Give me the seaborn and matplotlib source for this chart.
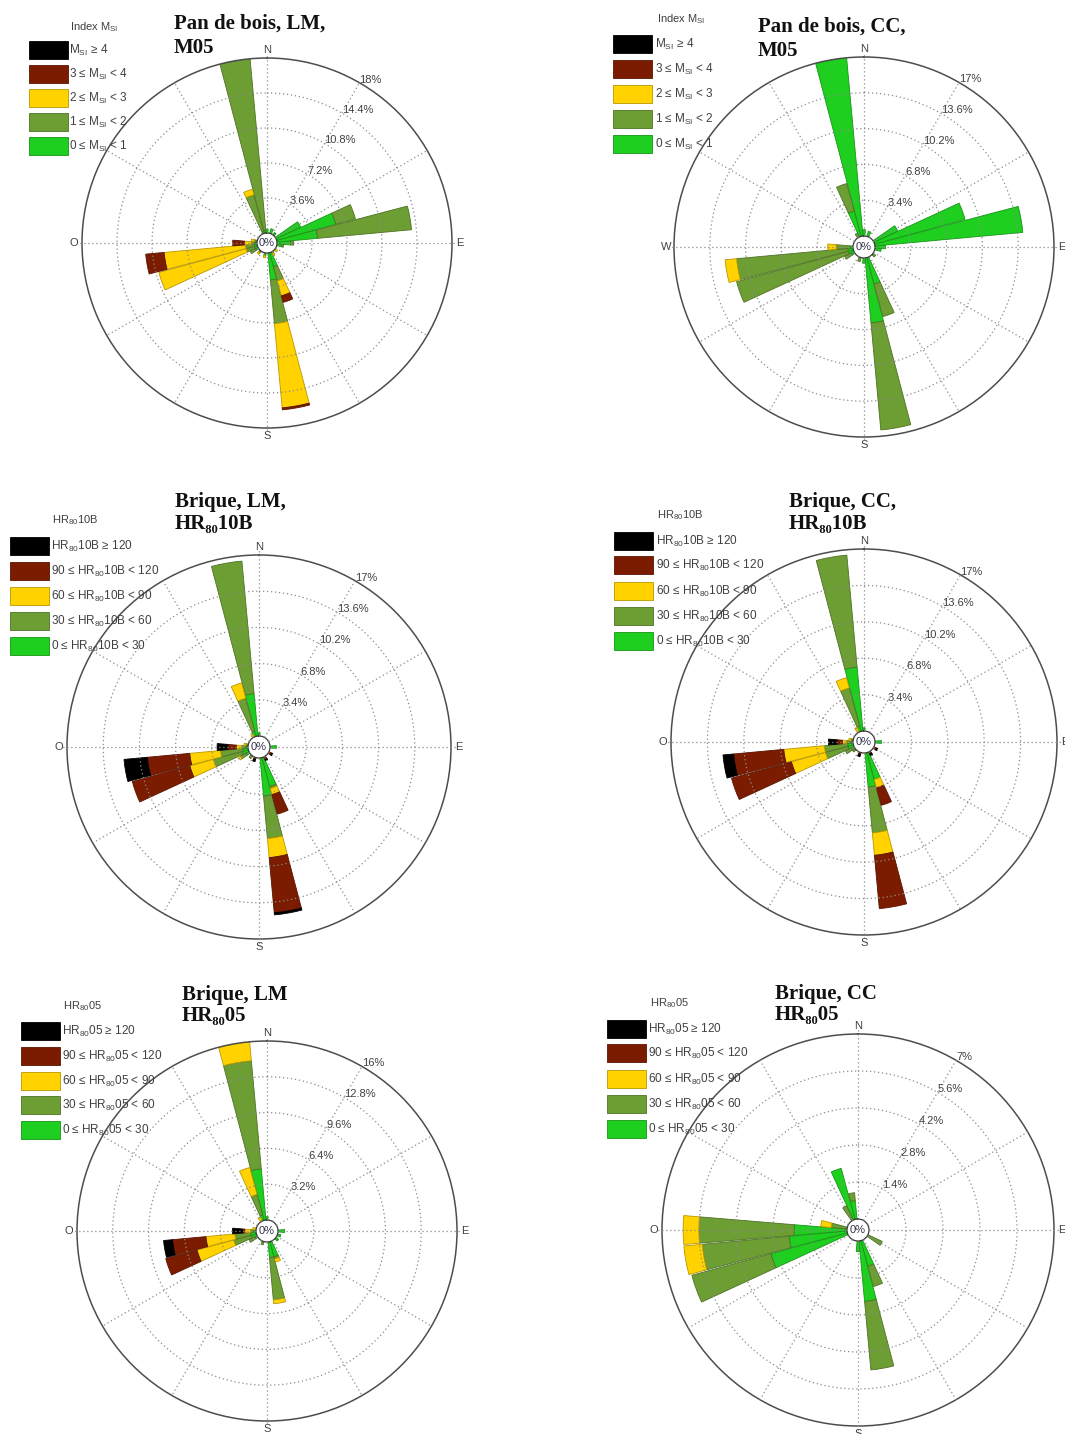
import numpy as np
import matplotlib
matplotlib.use("Agg")
import matplotlib.pyplot as plt
import seaborn as sns
from matplotlib.patches import Rectangle
from matplotlib.colors import to_rgb

sns.set_theme(style="white")
plt.rcParams["font.family"] = ["Liberation Sans", "DejaVu Sans"]
plt.rcParams["mathtext.fontset"] = "custom"
plt.rcParams["mathtext.rm"] = "Liberation Sans"
plt.rcParams["mathtext.it"] = "Liberation Sans:italic"
plt.rcParams["mathtext.bf"] = "Liberation Sans:bold"

# ---------------- data (percent of time per 10-degree sector, stacked by class) ----------
# class order: c0 (lowest, bright green), c1 (olive), c2 (yellow), c3 (brown), c4 (black)

# Pan de bois, LM, M05
p1_dirs = [0, 20, 40, 60, 70, 80, 90, 100, 130, 150, 160, 170, 190, 220, 240, 250, 260, 270, 280, 340, 350]
p1_c0 = [0.4, 0.5, 0.3, 2.8, 6.3, 4.2, 1.4, 0.5, 0, 0.2, 1.5, 2.8, 0.3, 0, 0.3, 0.3, 0.3, 0.2, 0, 0.2, 0.3]
p1_c1 = [0, 0, 0, 0, 2.1, 9.7, 0.3, 0.2, 0, 0, 1.5, 4.5, 0, 0.2, 0.6, 0.9, 0.9, 0.4, 0.3, 3.9, 17.7]
p1_c2 = [0, 0, 0, 0, 0, 0, 0, 0, 0.3, 0.2, 1.6, 8.7, 0.2, 0.2, 0, 9.3, 8.4, 0.7, 0.3, 0.6, 0]
p1_c3 = [0, 0, 0, 0, 0, 0, 0, 0, 0, 0, 0.7, 0.2, 0, 0, 0, 0, 1.9, 1.2, 0, 0, 0]
p1_c4 = [0, 0, 0, 0, 0, 0, 0, 0, 0, 0, 0, 0, 0, 0, 0, 0, 0, 0, 0, 0, 0]

# Pan de bois, CC, M05
p2_dirs = [0, 20, 60, 70, 80, 90, 100, 130, 160, 170, 180, 200, 240, 250, 260, 270, 330, 340, 350]
p2_c0 = [0.6, 0.5, 2.5, 8.9, 14.1, 1.0, 0.6, 0, 2.6, 6.2, 0.5, 0, 0.3, 0.5, 0.5, 0.3, 0, 2.5, 17.0]
p2_c1 = [0, 0, 0, 0, 0, 0, 0, 0.3, 3.2, 10.2, 0, 0.4, 0.7, 11.0, 10.6, 1.3, 0.4, 2.7, 0]
p2_c2 = [0, 0, 0, 0, 0, 0, 0, 0, 0, 0, 0, 0, 0, 0, 1.1, 0.8, 0, 0, 0]
p2_c3 = [0, 0, 0, 0, 0, 0, 0, 0, 0, 0, 0, 0, 0, 0, 0, 0, 0, 0, 0]
p2_c4 = [0, 0, 0, 0, 0, 0, 0, 0, 0, 0, 0, 0, 0, 0, 0, 0, 0, 0, 0]

# Brique, LM, HR80 10B
p3_dirs = [0, 90, 120, 150, 160, 170, 200, 220, 240, 250, 260, 270, 280, 330, 340, 350]
p3_c0 = [0.3, 0.6, 0, 0, 2.8, 3.6, 0, 0, 0.3, 0.6, 0.5, 0.2, 0, 0, 0.5, 4.0]
p3_c1 = [0, 0, 0, 0, 0.2, 4.0, 0, 0.3, 0.6, 2.8, 2.1, 0.4, 0.2, 0, 3.2, 12.5]
p3_c2 = [0, 0, 0, 0, 0.6, 1.8, 0, 0, 0.2, 2.3, 2.9, 0.5, 0.2, 0.3, 1.5, 0]
p3_c3 = [0, 0, 0.3, 0.3, 1.9, 5.2, 0.2, 0, 0, 5.6, 4.0, 0.8, 0, 0, 0, 0]
p3_c4 = [0, 0, 0.1, 0.1, 0, 0.2, 0.2, 0, 0, 0, 2.2, 1.0, 0, 0, 0, 0]

# Brique, CC, HR80 10B
p4_dirs = [0, 90, 120, 150, 160, 170, 200, 230, 240, 250, 260, 270, 280, 330, 340, 350]
p4_c0 = [0.3, 0.6, 0, 0, 2.6, 3.2, 0, 0, 0.3, 0.5, 0.5, 0.2, 0, 0, 0.5, 6.0]
p4_c1 = [0, 0, 0, 0, 0, 4.3, 0, 0.3, 0.6, 2.2, 2.2, 0.4, 0.2, 0, 3.7, 10.5]
p4_c2 = [0, 0, 0, 0, 0.8, 2.1, 0, 0, 0, 3.3, 3.8, 0.4, 0.2, 0.5, 1.0, 0]
p4_c3 = [0, 0, 0.3, 0.2, 1.7, 5.0, 0.2, 0, 0, 5.8, 4.7, 0.5, 0, 0, 0, 0]
p4_c4 = [0, 0, 0.1, 0.2, 0, 0, 0.2, 0, 0, 0, 1.0, 0.8, 0, 0, 0, 0]

# Brique, LM, HR80 05
p5_dirs = [0, 90, 110, 130, 160, 170, 200, 240, 250, 260, 270, 280, 330, 340, 350]
p5_c0 = [0.3, 0.6, 0.3, 0.3, 1.4, 1.4, 0, 0.2, 0.5, 0.5, 0.2, 0, 0, 0.5, 4.6]
p5_c1 = [0, 0, 0, 0, 0.2, 3.8, 0.3, 0.6, 1.6, 1.4, 0.3, 0, 0, 1.9, 9.7]
p5_c2 = [0, 0, 0, 0, 0.3, 0.35, 0, 0, 3.4, 2.6, 0.5, 0.3, 0.4, 2.5, 1.7]
p5_c3 = [0, 0, 0, 0, 0, 0, 0, 0, 2.9, 3.0, 0.2, 0, 0, 0, 0]
p5_c4 = [0, 0, 0, 0, 0, 0, 0, 0, 0, 0.8, 0.9, 0, 0, 0, 0]

# Brique, CC, HR80 05
p6_dirs = [120, 160, 170, 180, 250, 260, 270, 280, 330, 340, 350]
p6_c0 = [0, 1.0, 2.3, 0.4, 3.0, 2.2, 2.0, 0, 0, 2.0, 0.7]
p6_c1 = [0.6, 0.8, 2.6, 0, 3.1, 3.3, 3.6, 0.6, 0.6, 0, 0.3]
p6_c2 = [0, 0, 0, 0, 0, 0.7, 0.6, 0.4, 0, 0, 0]
p6_c3 = [0, 0, 0, 0, 0, 0, 0, 0, 0, 0, 0]
p6_c4 = [0, 0, 0, 0, 0, 0, 0, 0, 0, 0, 0]

# axis maxima (percent) of each rose
p_vmax = [18, 17, 17, 17, 16, 7]

# titles and legend texts
titles = [["Pan de bois, LM,", "M05"], ["Pan de bois, CC,", "M05"],
          ["Brique, LM,", "HR₈₀10B"], ["Brique, CC,", "HR₈₀10B"],
          ["Brique, LM", "HR₈₀05"], ["Brique, CC", "HR₈₀05"]]
west_labels = ["O", "W", "O", "O", "O", "O"]

msi_header = r"Index M$_{\mathrm{SI}}$"
msi_labels = [r"M$_{\mathrm{SI}}$ ≥ 4", r"3 ≤ M$_{\mathrm{SI}}$ < 4", r"2 ≤ M$_{\mathrm{SI}}$ < 3",
              r"1 ≤ M$_{\mathrm{SI}}$ < 2", r"0 ≤ M$_{\mathrm{SI}}$ < 1"]
hr10_header = r"HR$_{80}$10B"
hr10_labels = [r"HR$_{80}$10B ≥ 120", r"90 ≤ HR$_{80}$10B < 120", r"60 ≤ HR$_{80}$10B < 90",
               r"30 ≤ HR$_{80}$10B < 60", r"0 ≤ HR$_{80}$10B < 30"]
hr05_header = r"HR$_{80}$05"
hr05_labels = [r"HR$_{80}$05 ≥ 120", r"90 ≤ HR$_{80}$05 < 120", r"60 ≤ HR$_{80}$05 < 90",
               r"30 ≤ HR$_{80}$05 < 60", r"0 ≤ HR$_{80}$05 < 30"]

# ---------------- styling ----------------
class_colors = sns.color_palette(["#1fcf1f", "#6c9e34", "#ffd200", "#7b1c00", "#000000"])


def darker(c, f=0.72):
    return tuple(np.array(to_rgb(c)) * f)


W, H = 1065, 1434
fig = plt.figure(figsize=(W / 100, H / 100), dpi=100)
fig.patch.set_facecolor("white")

layout = [
    dict(cx=267, cy=243, R=185, hole=10, title_x=174, title_y=(29, 53),
         hdr=(70, 27), box_x=29, txt_x=69, rows=[50, 74, 98, 122, 146]),
    dict(cx=864, cy=247, R=190, hole=11, title_x=758, title_y=(32, 56),
         hdr=(657, 19), box_x=613, txt_x=655, rows=[44, 69, 94, 119, 144]),
    dict(cx=259, cy=747, R=192, hole=11, title_x=175, title_y=(507, 529),
         hdr=(52, 520), box_x=10, txt_x=51, rows=[546, 571, 596, 621, 646]),
    dict(cx=864, cy=742, R=193, hole=11, title_x=789, title_y=(507, 529),
         hdr=(657, 515), box_x=614, txt_x=656, rows=[541, 565, 591, 616, 641]),
    dict(cx=267, cy=1231, R=190, hole=11, title_x=182, title_y=(1000, 1021),
         hdr=(63, 1006), box_x=21, txt_x=62, rows=[1031, 1056, 1081, 1105, 1130]),
    dict(cx=858, cy=1230, R=196, hole=11, title_x=775, title_y=(999, 1020),
         hdr=(650, 1003), box_x=607, txt_x=648, rows=[1029, 1053, 1079, 1104, 1129]),
]

data = [
    (p1_dirs, [p1_c0, p1_c1, p1_c2, p1_c3, p1_c4]),
    (p2_dirs, [p2_c0, p2_c1, p2_c2, p2_c3, p2_c4]),
    (p3_dirs, [p3_c0, p3_c1, p3_c2, p3_c3, p3_c4]),
    (p4_dirs, [p4_c0, p4_c1, p4_c2, p4_c3, p4_c4]),
    (p5_dirs, [p5_c0, p5_c1, p5_c2, p5_c3, p5_c4]),
    (p6_dirs, [p6_c0, p6_c1, p6_c2, p6_c3, p6_c4]),
]
legends = [(msi_header, msi_labels), (msi_header, msi_labels),
           (hr10_header, hr10_labels), (hr10_header, hr10_labels),
           (hr05_header, hr05_labels), (hr05_header, hr05_labels)]

grid_ls = (0, (1, 2.2))
grid_col = "#8c8c8c"
txt_col = "#404040"

for i, L in enumerate(layout):
    dirs, classes = data[i]
    vmax = p_vmax[i]
    cx, cy, R, hole = L["cx"], L["cy"], L["R"], L["hole"]
    ax = fig.add_axes([(cx - R) / W, (H - cy - R) / H, 2 * R / W, 2 * R / H], projection="polar")
    ax.set_theta_zero_location("N")
    ax.set_theta_direction(-1)
    ax.set_ylim(0, vmax)
    ax.set_rorigin(-vmax * hole / (R - hole))
    ax.set_xticks([])
    ax.set_yticks([])
    ax.grid(False)
    ax.set_facecolor("white")
    ax.spines["polar"].set_color("#4d4d4d")
    ax.spines["polar"].set_linewidth(1.1)
    ax.spines["inner"].set_color("#3a3a3a")
    ax.spines["inner"].set_linewidth(0.9)

    theta = np.deg2rad(np.asarray(dirs, float))
    bottom = np.zeros(len(dirs))
    for vals, col in zip(classes, class_colors):
        vals = np.asarray(vals, float)
        m = vals > 0
        if m.any():
            ax.bar(theta[m], vals[m], width=np.deg2rad(9.5), bottom=bottom[m], color=col,
                   edgecolor=darker(col), linewidth=0.6, zorder=2)
        bottom += vals

    # grid
    tt = np.linspace(0, 2 * np.pi, 361)
    for k in range(1, 5):
        ax.plot(tt, np.full_like(tt, vmax * k / 5), ls=grid_ls, color=grid_col, lw=0.9, zorder=3)
    px = vmax / (R - hole)
    for a in range(0, 360, 30):
        ext = vmax + 5 * px if a % 90 == 0 else vmax
        ax.plot([np.deg2rad(a)] * 2, [0, ext], ls=grid_ls, color=grid_col, lw=0.9,
                zorder=3, clip_on=False)

    # ring labels
    for k in range(1, 6):
        v = vmax * k / 5
        ax.text(np.deg2rad(30), v, f"{v:g}%", ha="left", va="baseline", fontsize=8,
                color=txt_col, zorder=5)
    # cardinal labels
    for ang, lab in zip([0, 90, 180, 270], ["N", "E", "S", west_labels[i]]):
        ax.text(np.deg2rad(ang), vmax + 8 * px, lab, ha="center", va="center",
                fontsize=8, color=txt_col)
    ax.text(0.5, 0.5, "0%", transform=ax.transAxes, ha="center", va="center",
            fontsize=8, color="#33334d", zorder=1)

    # title
    for line, yb in zip(titles[i], L["title_y"]):
        fig.text(L["title_x"] / W, 1 - yb / H, line, ha="left", va="baseline",
                 fontsize=15, fontweight="bold", color="#111111",
                 family=["Liberation Serif", "DejaVu Serif"])

    # legend
    header, labels = legends[i]
    fig.text(L["hdr"][0] / W, 1 - L["hdr"][1] / H, header, ha="left", va="center",
             fontsize=8, color=txt_col)
    cols_top_down = list(class_colors)[::-1]
    bh, bw = 18, 39
    for yc, col, lab in zip(L["rows"], cols_top_down, labels):
        rect = Rectangle((L["box_x"] / W, 1 - (yc + bh / 2) / H), bw / W, bh / H,
                         transform=fig.transFigure, facecolor=col, edgecolor=darker(col),
                         linewidth=0.6)
        fig.add_artist(rect)
        fig.text(L["txt_x"] / W, 1 - yc / H, lab, ha="left", va="center",
                 fontsize=8.5, color=txt_col)

fig.savefig("out.png", dpi=100, facecolor="white")
